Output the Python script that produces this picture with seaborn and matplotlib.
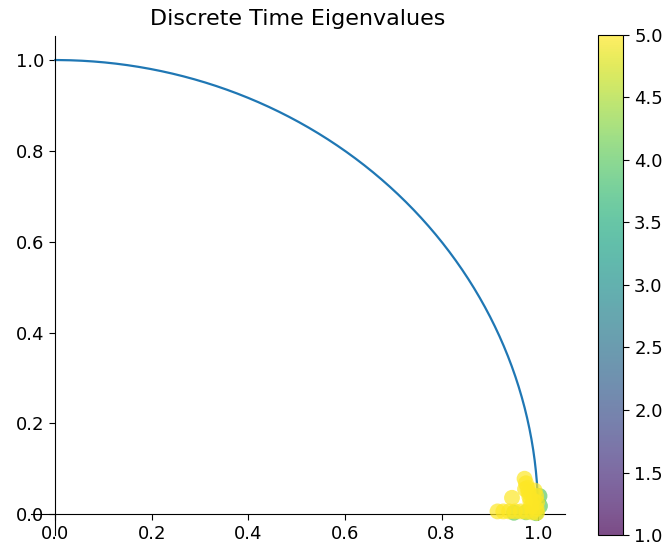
import numpy as np
import matplotlib
matplotlib.use("Agg")
import matplotlib.pyplot as plt
from matplotlib.colors import ListedColormap, Normalize
from matplotlib.cm import ScalarMappable
import pandas as pd
import seaborn as sns

# Eigenvalues of the discretised system (real / imaginary parts) and the
# model order each one belongs to
eig_real = [1.003, 1.004, 0.996, 0.950, 0.975,
            0.972, 0.975, 0.978, 0.980, 0.982, 0.984, 0.986, 0.973,
            0.993, 0.996, 0.998, 0.997, 0.990,
            0.916, 0.928, 0.940, 0.952, 0.964, 0.976, 0.988, 0.998,
            0.946]
eig_imag = [0.040, 0.018, 0.002, 0.003, 0.004,
            0.078, 0.068, 0.058, 0.048, 0.038, 0.028, 0.018, 0.055,
            0.052, 0.040, 0.026, 0.012, 0.030,
            0.006, 0.006, 0.006, 0.006, 0.006, 0.005, 0.004, 0.003,
            0.036]
eig_order = [4, 4, 4, 4, 4,
             5, 5, 5, 5, 5, 5, 5, 5,
             5, 5, 5, 5, 5,
             5, 5, 5, 5, 5, 5, 5, 5,
             5]

order_min, order_max = 1.0, 5.0
cbar_ticks = [1.0, 1.5, 2.0, 2.5, 3.0, 3.5, 4.0, 4.5, 5.0]
axis_ticks = [0.0, 0.2, 0.4, 0.6, 0.8, 1.0]

df = pd.DataFrame({"real": eig_real, "imag": eig_imag, "order": eig_order})
df = df.sort_values("order", kind="stable")

# Quarter of the unit circle (stability boundary)
theta = np.linspace(0, np.pi / 2, 200)
circle = pd.DataFrame({"x": np.cos(theta), "y": np.sin(theta)})

plt.rcParams.update({
    "xtick.labelsize": 13,
    "ytick.labelsize": 13,
    "xtick.major.size": 4.5,
    "ytick.major.size": 4.5,
})

fig = plt.figure(figsize=(6.66, 5.46), dpi=100)
ax = fig.add_axes([0.0465, 0.0201, 0.802, 0.914])
cax = fig.add_axes([0.898, 0.0201, 0.0375, 0.916])

sns.lineplot(data=circle, x="x", y="y", sort=False, ax=ax,
             color="#1f77b4", linewidth=1.6)

alpha = 0.7
cmap_colors = plt.get_cmap("viridis")(np.linspace(0, 1, 256))
cmap_colors[:, 3] = alpha
cmap_alpha = ListedColormap(cmap_colors)
norm = Normalize(order_min, order_max)

sns.scatterplot(data=df, x="real", y="imag", hue="order", palette="viridis",
                hue_norm=(order_min, order_max), s=130, alpha=alpha,
                linewidth=0, legend=False, ax=ax, zorder=3)

ax.set_xlim(-0.0503, 1.056)
ax.set_ylim(-0.046, 1.053)
ax.set_xticks(axis_ticks)
ax.set_yticks(axis_ticks)
ax.set_xlabel("")
ax.set_ylabel("")
ax.spines["top"].set_visible(False)
ax.spines["right"].set_visible(False)
ax.spines["left"].set_position(("data", 0))
ax.spines["bottom"].set_position(("data", 0))
ax.set_title("Discrete Time Eigenvalues", fontsize=16, pad=8)

cb = fig.colorbar(ScalarMappable(norm=norm, cmap=cmap_alpha), cax=cax)
cb.set_ticks(cbar_ticks)

fig.savefig("out.png", dpi=100)
